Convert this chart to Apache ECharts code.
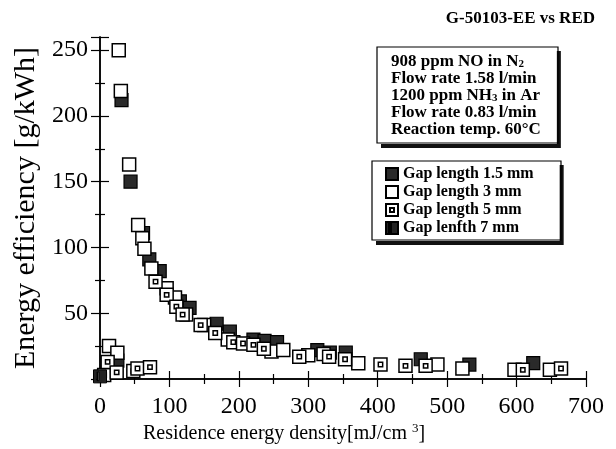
<!DOCTYPE html>
<html>
<head>
<meta charset="utf-8">
<script src="https://cdn.jsdelivr.net/npm/echarts@6/dist/echarts.min.js"></script>
<style>
html,body{margin:0;padding:0;background:#fff;}
#chart{width:616px;height:449px;}
</style>
</head>
<body>
<div id="chart"></div>
<script>
// ---- data (x: residence energy density mJ/cm3, y: energy efficiency g/kWh) ----
const gap15 = [[25,14],[31,212],[44,150],[62,111],[71,91],[86,82],[115,59],[129,54],[168,42],[187,36],[221,30],[237,29],[255,28],[313,22],[331,20],[354,20],[462,15],[532,11],[624,12]];
const gap3 = [[13,25],[25,20],[27,250],[30,219],[42,163],[55,117],[61,107],[64,99],[74,84],[96,69],[108,62],[124,49],[150,41],[184,30],[247,21],[264,22],[300,18],[322,19],[372,12],[486,11],[522,8],[597,7],[648,7]];
const gap5 = [[6,3],[11,13],[24,5],[48,6],[54,8],[72,9],[80,74],[96,64],[110,55],[119,49],[145,41],[166,35],[192,28],[206,27],[221,26],[236,23],[287,17],[330,17],[353,15],[404,11],[440,10],[469,10],[609,7],[664,8]];
const gap7 = [[0,2]];
const seriesNames = ['Gap length 1.5 mm','Gap length 3 mm','Gap length 5 mm','Gap lenfth 7 mm'];
const xTicks = [0,100,200,300,400,500,600,700];
const yTicks = [50,100,150,200,250];
const titleText = 'G-50103-EE vs RED';

const serif = 'Liberation Serif';
const sym5 = 'path://M0,0H12V12H0Z M4,4H8V8H4Z';
const sym7 = 'path://M0,0H12V12H0Z M3,2V10H5V2Z';

const chart = echarts.init(document.getElementById('chart'), null, {renderer:'canvas'});
const axisCommon = {
  min: 0,
  axisLine: {show: true, lineStyle: {color: '#000', width: 1.5}},
  splitLine: {show: false},
};
const tickStyle = {color: '#000', width: 1.2};

chart.setOption({
  animation: false,
  backgroundColor: '#fff',
  title: [
    {
      text: titleText, right: 16, top: 5,
      textStyle: {fontFamily: serif, fontWeight: 'bold', fontSize: 17, color: '#000'}
    },
    {
      text: '908 ppm NO in N{s|2}\nFlow rate 1.58 l/min\n1200 ppm NH{s|3} in Ar\nFlow rate 0.83 l/min\nReaction temp. 60°C',
      left: 377, top: 47, padding: [6, 16, 6, 14],
      backgroundColor: '#fff', borderWidth: 0,
      shadowColor: '#111', shadowBlur: 0, shadowOffsetX: 4, shadowOffsetY: 4,
      textStyle: {fontFamily: serif, fontWeight: 'bold', fontSize: 17, lineHeight: 17, color: '#000',
        rich: {s: {fontFamily: serif, fontWeight: 'bold', fontSize: 11, verticalAlign: 'bottom', lineHeight: 17, padding: [6,0,0,0], color: '#000'}}}
    }
  ],
  grid: {left: 100, right: 30, top: 37, bottom: 70, containLabel: false},
  xAxis: [
    Object.assign({}, axisCommon, {
      type: 'value', max: 700, interval: 100, position: 'bottom',
      axisTick: {inside: true, length: 8, lineStyle: tickStyle},
      minorTick: {show: true, splitNumber: 2, length: 5, lineStyle: tickStyle},
      axisLabel: {margin: 16, fontFamily: serif, fontSize: 24, color: '#000',
        formatter: v => xTicks.includes(v) ? String(v) : ''}
    }),
    Object.assign({}, axisCommon, {
      type: 'value', max: 700, interval: 100, position: 'top',
      axisTick: {inside: true, length: 8, lineStyle: tickStyle},
      minorTick: {show: true, splitNumber: 2, length: 5, lineStyle: tickStyle},
      axisLabel: {show: false}
    })
  ],
  yAxis: [
    Object.assign({}, axisCommon, {
      type: 'value', max: 260, interval: 50, position: 'left',
      name: 'Energy efficiency [g/kWh]', nameLocation: 'middle', nameGap: 56,
      nameTextStyle: {fontFamily: serif, fontSize: 30, color: '#000'},
      axisTick: {inside: true, length: 9, lineStyle: tickStyle},
      minorTick: {show: true, splitNumber: 2, length: 5, lineStyle: tickStyle},
      axisLabel: {margin: 12, fontFamily: serif, fontSize: 24, color: '#000',
        formatter: v => yTicks.includes(v) ? String(v) : ''}
    }),
    Object.assign({}, axisCommon, {
      type: 'value', max: 260, interval: 50, position: 'right',
      axisTick: {inside: true, length: 9, lineStyle: tickStyle},
      minorTick: {show: true, splitNumber: 2, length: 5, lineStyle: tickStyle},
      axisLabel: {show: false}
    })
  ],
  legend: {
    orient: 'vertical', left: 372, top: 161, z: 10, padding: [5, 26, 5, 13],
    backgroundColor: '#fff', borderWidth: 0,
    shadowColor: '#111', shadowBlur: 0, shadowOffsetX: 4, shadowOffsetY: 4,
    itemWidth: 12, itemHeight: 12, itemGap: 2,
    textStyle: {fontFamily: serif, fontWeight: 'bold', fontSize: 16, lineHeight: 16, color: '#000'},
    data: [
      {name: seriesNames[0], icon: 'rect'},
      {name: seriesNames[1], icon: 'rect'},
      {name: seriesNames[2], icon: sym5},
      {name: seriesNames[3], icon: sym7}
    ]
  },
  graphic: [
    {type: 'rect', id: 'annBorder', z: 20, shape: {x: 377, y: 47, width: 181, height: 96},
      style: {fill: 'rgba(255,255,255,0)', stroke: '#000', lineWidth: 1.2}},
    {type: 'rect', id: 'legBorder', z: 20, shape: {x: 372, y: 161, width: 189, height: 79},
      style: {fill: 'rgba(255,255,255,0)', stroke: '#000', lineWidth: 1.2}},
    {type: 'text', id: 'xName', z: 3, x: 143, y: 422, style: {
      text: 'Residence energy density[mJ/cm {p|3}]',
      fontFamily: serif, fontSize: 20, fill: '#000',
      rich: {p: {fontFamily: serif, fontSize: 13, verticalAlign: 'top', padding: [0,0,10,0]}}
    }}
  ],
  series: [
    {name: seriesNames[0], type: 'scatter', data: gap15, symbol: 'rect', symbolSize: 13, z: 2,
      itemStyle: {color: '#2a2a2a', borderColor: '#000', borderWidth: 1.2, opacity: 1}},
    {name: seriesNames[1], type: 'scatter', data: gap3, symbol: 'rect', symbolSize: 13, z: 3,
      itemStyle: {color: '#fff', borderColor: '#000', borderWidth: 1.5, opacity: 1}},
    {name: seriesNames[2], type: 'scatter', data: gap5, symbol: sym5, symbolSize: 13, z: 4,
      itemStyle: {color: '#fff', borderColor: '#000', borderWidth: 1.5, opacity: 1}},
    {name: seriesNames[3], type: 'scatter', data: gap7, symbol: sym7, symbolSize: 13, z: 5,
      itemStyle: {color: '#222', borderColor: '#000', borderWidth: 1, opacity: 1}}
  ]
});
</script>
</body>
</html>
